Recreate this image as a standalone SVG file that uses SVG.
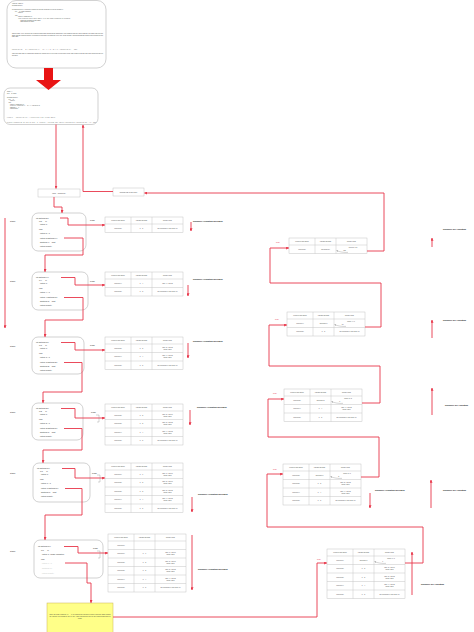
<svg xmlns="http://www.w3.org/2000/svg" width="474" height="632" viewBox="0 0 474 632">
<defs>
<style>
text{font-family:"Liberation Sans",Arial,sans-serif;fill:#444}
.code{font-size:1.4px}
.fr{font-size:2px;fill:#333}
.fd{fill:#c8c8c8}
.tt{font-size:1.55px;text-anchor:middle}
.lb{font-size:2.05px;font-weight:bold;fill:#111}
.sk{font-size:2.1px;fill:#222}
.pu{font-size:2.1px;fill:#222}
.po{font-size:2.1px;fill:#e8374a}
.bx{font-size:1.6px;text-anchor:middle}
.yt{font-size:1.4px;text-anchor:middle;fill:#333}
.box{fill:#fff;stroke:#b4b4b4;stroke-width:0.6}
.tb{fill:#fff;stroke:#c4c4c4;stroke-width:0.5}
.tl{fill:none;stroke:#c4c4c4;stroke-width:0.5}
.c{fill:none;stroke:#e8374a;stroke-width:0.9}
.g{fill:none;stroke:#888;stroke-width:0.35}
</style>
<marker id="a" viewBox="0 0 10 10" refX="9" refY="5" markerWidth="3" markerHeight="3" markerUnits="userSpaceOnUse" orient="auto"><path d="M0 0L10 5L0 10z" fill="#e8374a"/></marker>
<marker id="ga" viewBox="0 0 10 10" refX="9" refY="5" markerWidth="1.4" markerHeight="1.4" markerUnits="userSpaceOnUse" orient="auto"><path d="M0 0L10 5L0 10z" fill="#888"/></marker>
</defs>
<rect width="474" height="632" fill="#fff"/>

<g id="code-box">
<rect class="box" x="7" y="0.5" width="99" height="67.5" rx="9"/>
<text class="code" x="12" y="3.8">#include &lt;stdio.h&gt;</text>
<text class="code" x="12" y="5.5">int factorial(int n);</text>
<text class="code" x="12" y="9.8" textLength="51">int factorial(int n){ //recursive function to find the factorial of a given number n</text>
<text class="code" x="15" y="11.5">if(n == 0) //base condition</text>
<text class="code" x="18" y="13.2">return 1;</text>
<text class="code" x="15" y="15.5">else</text>
<text class="code" x="18" y="17.2">return n * factorial(n-1);</text>
<text class="code" x="18" y="18.8" textLength="52">//the function calls itself with n-1 till the base condition is reached</text>
<text class="code" x="20" y="20.5">//each call is pushed on the stack</text>
<text class="code" x="20" y="21.9">//and popped on return</text>
<text class="code" x="12" y="33.8" textLength="91">Stack Frame: every function call creates a stack frame that holds its arguments, local variables and the return address. The frame stays on the</text>
<text class="code" x="12" y="35.5" textLength="91">stack until the function returns. In recursion a new frame is pushed for every call, so the memory used grows with the depth of the recursion till the</text>
<text class="code" x="12" y="37.2">base case.</text>
<text class="code" x="12" y="49.8" textLength="65">factorial(5) = 5 * factorial(4) = 5 * 4 * 3 * 2 * 1 * factorial(0) = 120</text>
<text class="code" x="12" y="53.8" textLength="91">When the base case is reached the frames are popped one by one in the reverse order of the calls (Last In First Out) and each returns its value to</text>
<text class="code" x="12" y="55.8">the caller.</text>
</g>

<g id="main-box">
<rect class="box" x="4" y="88" width="94" height="36.5" rx="6"/>
<text class="code" x="7" y="92.2">main( ) {</text>
<text class="code" x="7" y="93.8">int n = 5, result;</text>
<text class="code" x="7" y="98.2">int factorial(int n){</text>
<text class="code" x="8.5" y="99.8">if(n == 0)</text>
<text class="code" x="10" y="101.4">return 1;</text>
<text class="code" x="8.5" y="103">else</text>
<text class="code" x="10" y="104.6">return n * factorial(n-1);</text>
<text class="code" x="10" y="106.2" textLength="30">return 5 * factorial(4) = 5 * 4 * factorial(3)</text>
<text class="code" x="10" y="107.8">factorial(4) = ?</text>
<text class="code" x="10" y="109.4">return(result);</text>
<text class="code" x="7" y="118.1" textLength="48">result = factorial(n); //function call from main</text>
<text class="code" x="7" y="122.6" textLength="89">printf("Factorial of %d is %d", n, result); //prints the value returned by factorial(5), i.e. 120</text>
</g>

<g id="call-box">
<rect class="tb" x="38" y="189" width="42" height="8"/>
<text class="bx" x="59" y="193.6">result = factorial(5);</text>
</g>
<g id="return-box">
<rect class="tb" x="113" y="188" width="31" height="8"/>
<text class="bx" x="128.5" y="192.6">Returns 120 to the caller</text>
</g>

<g id="frame-1">
<rect class="box" x="32" y="213" width="54" height="38" rx="6"/>
<text class="fr" x="36" y="218.6">int factorial(5){</text>
<text class="fr" x="39" y="221.9">if(5 == 0)</text>
<text class="fr" x="40" y="224.9">return 1;</text>
<text class="fr" x="39" y="229.6">else</text>
<text class="fr" x="40" y="233.6">return 5 * ?</text>
<text class="fr" x="40" y="238.6">return 5*factorial(4);</text>
<text class="fr" x="40" y="242.6">factorial(4) = wait</text>
<text class="fr" x="40" y="247.1">return(result);</text>
</g>
<g id="frame-2">
<rect class="box" x="32" y="272" width="56" height="38" rx="6"/>
<text class="fr" x="36" y="277.6">int factorial(4){</text>
<text class="fr" x="39" y="280.9">if(4 == 0)</text>
<text class="fr" x="40" y="283.9">return 1;</text>
<text class="fr" x="39" y="288.6">else</text>
<text class="fr" x="40" y="292.6">return 4 * ?</text>
<text class="fr" x="40" y="297.6">return 4*factorial(3);</text>
<text class="fr" x="40" y="301.6">factorial(3) = wait</text>
<text class="fr" x="40" y="306.1">return(result);</text>
</g>
<g id="frame-3">
<rect class="box" x="32" y="337" width="52" height="37" rx="6"/>
<text class="fr" x="36" y="342.6">int factorial(3){</text>
<text class="fr" x="39" y="345.9">if(3 == 0)</text>
<text class="fr" x="40" y="348.9">return 1;</text>
<text class="fr" x="39" y="353.6">else</text>
<text class="fr" x="40" y="357.6">return 3 * ?</text>
<text class="fr" x="40" y="362.6">return 3*factorial(2);</text>
<text class="fr" x="40" y="366.6">factorial(2) = wait</text>
<text class="fr" x="40" y="371.1">return(result);</text>
</g>
<g id="frame-4">
<rect class="box" x="32" y="403" width="51" height="37" rx="6"/>
<text class="fr" x="36" y="408.6">int factorial(2){</text>
<text class="fr" x="39" y="411.9">if(2 == 0)</text>
<text class="fr" x="40" y="414.9">return 1;</text>
<text class="fr" x="39" y="419.6">else</text>
<text class="fr" x="40" y="423.6">return 2 * ?</text>
<text class="fr" x="40" y="428.6">return 2*factorial(1);</text>
<text class="fr" x="40" y="432.6">factorial(1) = wait</text>
<text class="fr" x="40" y="437.1">return(result);</text>
</g>
<g id="frame-5">
<rect class="box" x="33" y="463" width="57" height="39" rx="6"/>
<text class="fr" x="37" y="468.6">int factorial(1){</text>
<text class="fr" x="40" y="471.9">if(1 == 0)</text>
<text class="fr" x="41" y="474.9">return 1;</text>
<text class="fr" x="40" y="479.6">else</text>
<text class="fr" x="41" y="483.6">return 1 * ?</text>
<text class="fr" x="41" y="488.6">return 1*factorial(0);</text>
<text class="fr" x="41" y="492.6">factorial(0) = wait</text>
<text class="fr" x="41" y="497.1">return(result);</text>
</g>
<g id="frame-6">
<rect class="box" x="34" y="540" width="69" height="38" rx="6"/>
<text class="fr" x="38" y="546.6">int factorial(0){</text>
<text class="fr" x="41" y="550.6">if(0 == 0)</text>
<text class="fr" x="42" y="554.6">return 1; //base condition</text>
<text class="fr" x="41" y="559.6">else</text>
<text class="fr fd" x="42" y="563.6">return 0 * ?</text>
<text class="fr fd" x="42" y="568.6">factorial(-1)</text>
<text class="fr fd" x="42" y="573.6">return(result);</text>
</g>

<g id="push-table-1" transform="translate(105 217)">
<rect class="tb" width="78" height="15.5"/>
<path class="tl" d="M0 7H78M26 0V15.5M47 0V15.5"/>
<text class="tt" x="13" y="4.1">Function Call Stack</text><text class="tt" x="36.5" y="4.1">Variable Storage</text><text class="tt" x="62.5" y="4.1">Return Value</text>
<text class="tt" x="13" y="11.8">factorial(5)</text><text class="tt" x="36.5" y="11.8">n = 5</text><text class="tt" x="62.5" y="11.8">Not Returned to the caller yet</text>
</g>
<g id="push-table-2" transform="translate(105 272)">
<rect class="tb" width="78" height="24"/>
<path class="tl" d="M0 7H78M0 15.5H78M26 0V24M47 0V24"/>
<text class="tt" x="13" y="4.1">Function Call Stack</text><text class="tt" x="36.5" y="4.1">Variable Storage</text><text class="tt" x="62.5" y="4.1">Return Value</text>
<text class="tt" x="13" y="11.8">factorial(4)</text><text class="tt" x="36.5" y="11.8">n = 4</text><text class="tt" x="62.5" y="11.8">Wait: 4 * fact(3)</text>
<text class="tt" x="13" y="20.3">factorial(5)</text><text class="tt" x="36.5" y="20.3">n = 5</text><text class="tt" x="62.5" y="20.3">Not Returned to the caller yet</text>
</g>
<g id="push-table-3" transform="translate(105 337)">
<rect class="tb" width="78" height="32.5"/>
<path class="tl" d="M0 7H78M0 15.5H78M0 24H78M26 0V32.5M47 0V32.5"/>
<text class="tt" x="13" y="4.1">Function Call Stack</text><text class="tt" x="36.5" y="4.1">Variable Storage</text><text class="tt" x="62.5" y="4.1">Return Value</text>
<text class="tt" x="13" y="11.8">factorial(3)</text><text class="tt" x="36.5" y="11.8">n = 3</text><text class="tt" x="62.5" y="10.8">Wait: 3 * fact(2)</text><text class="tt" x="62.5" y="12.7">return value</text>
<text class="tt" x="13" y="20.3">factorial(4)</text><text class="tt" x="36.5" y="20.3">n = 4</text><text class="tt" x="62.5" y="19.3">Wait: 4 * fact(3)</text><text class="tt" x="62.5" y="21.2">return value</text>
<text class="tt" x="13" y="28.8">factorial(5)</text><text class="tt" x="36.5" y="28.8">n = 5</text><text class="tt" x="62.5" y="28.8">Not Returned to the caller yet</text>
</g>
<g id="push-table-4" transform="translate(105 404)">
<rect class="tb" width="78" height="41"/>
<path class="tl" d="M0 7H78M0 15.5H78M0 24H78M0 32.5H78M26 0V41M47 0V41"/>
<text class="tt" x="13" y="4.1">Function Call Stack</text><text class="tt" x="36.5" y="4.1">Variable Storage</text><text class="tt" x="62.5" y="4.1">Return Value</text>
<text class="tt" x="13" y="11.8">factorial(2)</text><text class="tt" x="36.5" y="11.8">n = 2</text><text class="tt" x="62.5" y="10.8">Wait: 2 * fact(1)</text><text class="tt" x="62.5" y="12.7">return value</text>
<text class="tt" x="13" y="20.3">factorial(3)</text><text class="tt" x="36.5" y="20.3">n = 3</text><text class="tt" x="62.5" y="19.3">Wait: 3 * fact(2)</text><text class="tt" x="62.5" y="21.2">return value</text>
<text class="tt" x="13" y="28.8">factorial(4)</text><text class="tt" x="36.5" y="28.8">n = 4</text><text class="tt" x="62.5" y="27.8">Wait: 4 * fact(3)</text><text class="tt" x="62.5" y="29.7">return value</text>
<text class="tt" x="13" y="37.3">factorial(5)</text><text class="tt" x="36.5" y="37.3">n = 5</text><text class="tt" x="62.5" y="37.3">Not Returned to the caller yet</text>
</g>
<g id="push-table-5" transform="translate(105 463)">
<rect class="tb" width="78" height="49.5"/>
<path class="tl" d="M0 7H78M0 15.5H78M0 24H78M0 32.5H78M0 41H78M26 0V49.5M47 0V49.5"/>
<text class="tt" x="13" y="4.1">Function Call Stack</text><text class="tt" x="36.5" y="4.1">Variable Storage</text><text class="tt" x="62.5" y="4.1">Return Value</text>
<text class="tt" x="13" y="11.8">factorial(1)</text><text class="tt" x="36.5" y="11.8">n = 1</text><text class="tt" x="62.5" y="10.8">Wait: 1 * fact(0)</text><text class="tt" x="62.5" y="12.7">return value</text>
<text class="tt" x="13" y="20.3">factorial(2)</text><text class="tt" x="36.5" y="20.3">n = 2</text><text class="tt" x="62.5" y="19.3">Wait: 2 * fact(1)</text><text class="tt" x="62.5" y="21.2">return value</text>
<text class="tt" x="13" y="28.8">factorial(3)</text><text class="tt" x="36.5" y="28.8">n = 3</text><text class="tt" x="62.5" y="27.8">Wait: 3 * fact(2)</text><text class="tt" x="62.5" y="29.7">return value</text>
<text class="tt" x="13" y="37.3">factorial(4)</text><text class="tt" x="36.5" y="37.3">n = 4</text><text class="tt" x="62.5" y="36.3">Wait: 4 * fact(3)</text><text class="tt" x="62.5" y="38.2">return value</text>
<text class="tt" x="13" y="45.8">factorial(5)</text><text class="tt" x="36.5" y="45.8">n = 5</text><text class="tt" x="62.5" y="45.8">Not Returned to the caller yet</text>
</g>
<g id="push-table-6" transform="translate(108 534)">
<rect class="tb" width="78" height="58"/>
<path class="tl" d="M0 7H78M0 15.5H78M0 24H78M0 32.5H78M0 41H78M0 49.5H78M26 0V58M47 0V58"/>
<text class="tt" x="13" y="4.1">Function Call Stack</text><text class="tt" x="36.5" y="4.1">Variable Storage</text><text class="tt" x="62.5" y="4.1">Return Value</text>
<text class="tt" x="13" y="11.8">factorial(0)</text>
<text class="tt" x="13" y="20.3">factorial(1)</text><text class="tt" x="36.5" y="20.3">n = 1</text><text class="tt" x="62.5" y="19.3">Wait: 1 * fact(0)</text><text class="tt" x="62.5" y="21.2">return value</text>
<text class="tt" x="13" y="28.8">factorial(2)</text><text class="tt" x="36.5" y="28.8">n = 2</text><text class="tt" x="62.5" y="27.8">Wait: 2 * fact(1)</text><text class="tt" x="62.5" y="29.7">return value</text>
<text class="tt" x="13" y="37.3">factorial(3)</text><text class="tt" x="36.5" y="37.3">n = 3</text><text class="tt" x="62.5" y="36.3">Wait: 3 * fact(2)</text><text class="tt" x="62.5" y="38.2">return value</text>
<text class="tt" x="13" y="45.8">factorial(4)</text><text class="tt" x="36.5" y="45.8">n = 4</text><text class="tt" x="62.5" y="44.8">Wait: 4 * fact(3)</text><text class="tt" x="62.5" y="46.7">return value</text>
<text class="tt" x="13" y="54.3">factorial(5)</text><text class="tt" x="36.5" y="54.3">n = 5</text><text class="tt" x="62.5" y="54.3">Not Returned to the caller yet</text>
</g>

<g id="pop-table-1" transform="translate(289 238)">
<rect class="tb" width="78" height="15.5"/>
<path class="tl" d="M0 7H78M26 0V15.5M47 0V15.5"/>
<text class="tt" x="13" y="4.1">Function Call Stack</text><text class="tt" x="36.5" y="4.1">Variable Storage</text><text class="tt" x="62.5" y="4.1">Return Value</text>
<text class="tt" x="13" y="11.8">factorial(5)</text><text class="tt" x="36.5" y="11.8">Returned 24</text><text class="tt" x="64" y="10.4">return 5 * 24</text><text class="tt" x="55" y="12.9">= 120</text>
<path class="g" d="M59 14.4C55 14.7 50.5 13.9 47.6 12.6" marker-end="url(#ga)"/>
</g>
<g id="pop-table-2" transform="translate(287 312)">
<rect class="tb" width="78" height="24"/>
<path class="tl" d="M0 7H78M0 15.5H78M26 0V24M47 0V24"/>
<text class="tt" x="13" y="4.1">Function Call Stack</text><text class="tt" x="36.5" y="4.1">Variable Storage</text><text class="tt" x="62.5" y="4.1">Return Value</text>
<text class="tt" x="13" y="11.8">factorial(4)</text><text class="tt" x="36.5" y="11.8">Returned 6</text><text class="tt" x="64" y="10.4">return 4 * 6</text><text class="tt" x="55" y="12.9">= 24</text>
<path class="g" d="M59 14.4C55 14.7 50.5 13.9 47.6 12.6" marker-end="url(#ga)"/>
<text class="tt" x="13" y="20.3">factorial(5)</text><text class="tt" x="36.5" y="20.3">n = 5</text><text class="tt" x="62.5" y="20.3">Not Returned to the caller yet</text>
</g>
<g id="pop-table-3" transform="translate(284 389)">
<rect class="tb" width="78" height="32.5"/>
<path class="tl" d="M0 7H78M0 15.5H78M0 24H78M26 0V32.5M47 0V32.5"/>
<text class="tt" x="13" y="4.1">Function Call Stack</text><text class="tt" x="36.5" y="4.1">Variable Storage</text><text class="tt" x="62.5" y="4.1">Return Value</text>
<text class="tt" x="13" y="11.8">factorial(3)</text><text class="tt" x="36.5" y="11.8">Returned 2</text><text class="tt" x="64" y="10.4">return 3 * 2</text><text class="tt" x="55" y="12.9">= 6</text>
<path class="g" d="M59 14.4C55 14.7 50.5 13.9 47.6 12.6" marker-end="url(#ga)"/>
<text class="tt" x="13" y="20.3">factorial(4)</text><text class="tt" x="36.5" y="20.3">n = 4</text><text class="tt" x="62.5" y="19.3">Wait: 4 * fact(3)</text><text class="tt" x="62.5" y="21.2">return value</text>
<text class="tt" x="13" y="28.8">factorial(5)</text><text class="tt" x="36.5" y="28.8">n = 5</text><text class="tt" x="62.5" y="28.8">Not Returned to the caller yet</text>
</g>
<g id="pop-table-4" transform="translate(283 464)">
<rect class="tb" width="78" height="41"/>
<path class="tl" d="M0 7H78M0 15.5H78M0 24H78M0 32.5H78M26 0V41M47 0V41"/>
<text class="tt" x="13" y="4.1">Function Call Stack</text><text class="tt" x="36.5" y="4.1">Variable Storage</text><text class="tt" x="62.5" y="4.1">Return Value</text>
<text class="tt" x="13" y="11.8">factorial(2)</text><text class="tt" x="36.5" y="11.8">Returned 1</text><text class="tt" x="64" y="10.4">return 2 * 1</text><text class="tt" x="55" y="12.9">= 2</text>
<path class="g" d="M59 14.4C55 14.7 50.5 13.9 47.6 12.6" marker-end="url(#ga)"/>
<text class="tt" x="13" y="20.3">factorial(3)</text><text class="tt" x="36.5" y="20.3">n = 3</text><text class="tt" x="62.5" y="19.3">Wait: 3 * fact(2)</text><text class="tt" x="62.5" y="21.2">return value</text>
<text class="tt" x="13" y="28.8">factorial(4)</text><text class="tt" x="36.5" y="28.8">n = 4</text><text class="tt" x="62.5" y="27.8">Wait: 4 * fact(3)</text><text class="tt" x="62.5" y="29.7">return value</text>
<text class="tt" x="13" y="37.3">factorial(5)</text><text class="tt" x="36.5" y="37.3">n = 5</text><text class="tt" x="62.5" y="37.3">Not Returned to the caller yet</text>
</g>
<g id="pop-table-5" transform="translate(327 549)">
<rect class="tb" width="78" height="49.5"/>
<path class="tl" d="M0 7H78M0 15.5H78M0 24H78M0 32.5H78M0 41H78M26 0V49.5M47 0V49.5"/>
<text class="tt" x="13" y="4.1">Function Call Stack</text><text class="tt" x="36.5" y="4.1">Variable Storage</text><text class="tt" x="62.5" y="4.1">Return Value</text>
<text class="tt" x="13" y="11.8">factorial(1)</text><text class="tt" x="36.5" y="11.8">Returned 1</text><text class="tt" x="64" y="10.4">return 1 * 1</text><text class="tt" x="55" y="12.9">= 1</text>
<path class="g" d="M59 14.4C55 14.7 50.5 13.9 47.6 12.6" marker-end="url(#ga)"/>
<text class="tt" x="13" y="20.3">factorial(2)</text><text class="tt" x="36.5" y="20.3">n = 2</text><text class="tt" x="62.5" y="19.3">Wait: 2 * fact(1)</text><text class="tt" x="62.5" y="21.2">return value</text>
<text class="tt" x="13" y="28.8">factorial(3)</text><text class="tt" x="36.5" y="28.8">n = 3</text><text class="tt" x="62.5" y="27.8">Wait: 3 * fact(2)</text><text class="tt" x="62.5" y="29.7">return value</text>
<text class="tt" x="13" y="37.3">factorial(4)</text><text class="tt" x="36.5" y="37.3">n = 4</text><text class="tt" x="62.5" y="36.3">Wait: 4 * fact(3)</text><text class="tt" x="62.5" y="38.2">return value</text>
<text class="tt" x="13" y="45.8">factorial(5)</text><text class="tt" x="36.5" y="45.8">n = 5</text><text class="tt" x="62.5" y="45.8">Not Returned to the caller yet</text>
</g>

<g id="note">
<rect x="47" y="603" width="66" height="34" fill="#ffff88" stroke="#c9b458" stroke-width="0.5"/>
<text class="yt" x="80" y="614.6" textLength="61">Once the base condition (n == 0) is reached the function returns 1 and the stack frames</text>
<text class="yt" x="80" y="616.9" textLength="61">are popped (de-allocated) one by one, each returning its value to the function that called it</text>
<text class="yt" x="80" y="619.2">(LIFO).</text>
</g>

<g id="labels">
<text class="sk" x="10" y="221.7">Stack</text>
<text class="sk" x="10" y="281.7">Stack</text>
<text class="sk" x="10" y="346.7">Stack</text>
<text class="sk" x="10" y="412.7">Stack</text>
<text class="sk" x="10" y="473.7">Stack</text>
<text class="sk" x="10" y="551.7">Stack</text>
<text class="pu" x="90" y="221.2">Push</text>
<text class="pu" x="90" y="281.7">Push</text>
<text class="pu" x="90" y="346.2">Push</text>
<text class="pu" x="91" y="412.7">Push</text>
<text class="pu" x="92" y="473.7">Push</text>
<text class="pu" x="93" y="548.7">Push</text>
<text class="po" x="276" y="243.2">Pop</text>
<text class="po" x="275" y="320.2">Pop</text>
<text class="po" x="273" y="394.2">Pop</text>
<text class="po" x="273" y="470.2">Pop</text>
<text class="po" x="317" y="560.2">Pop</text>
<text class="lb" x="193" y="221.6">Resource Allocation Increases</text>
<text class="lb" x="193" y="279.6">Resource Allocation Increases</text>
<text class="lb" x="193" y="341.6">Resource Allocation Increases</text>
<text class="lb" x="197" y="407.6">Resource Allocation Increases</text>
<text class="lb" x="198" y="494.6">Resource Allocation Increases</text>
<text class="lb" x="198" y="569.6">Resource Allocation Increases</text>
<text class="lb" x="375" y="490.6">Resource Allocation Increases</text>
<text class="lb" x="443" y="229.6">Resource De-Allocation</text>
<text class="lb" x="443" y="320.6">Resource De-Allocation</text>
<text class="lb" x="445" y="405.6">Resource De-Allocation</text>
<text class="lb" x="443" y="490.6">Resource De-Allocation</text>
<text class="lb" x="421" y="584.6">Resource De-Allocation</text>
</g>

<g id="connectors">
<path d="M44 68H53V80H61L48.5 90L36 80H44Z" fill="#e81414"/>
<path class="c" d="M56 124.5V188.5" marker-end="url(#a)"/>
<path class="c" d="M54 197V207H62V212.8" marker-end="url(#a)"/>
<path class="c" d="M113 191.5H83V125" marker-end="url(#a)"/>
<path class="c" d="M367 251H384V193H144.5" marker-end="url(#a)"/>
<path class="c" d="M5 218V328" marker-end="url(#a)"/>
<path class="c" d="M60 218H68V225H104.8" marker-end="url(#a)"/>
<path class="c" d="M64 238H83V255H45V271.8" marker-end="url(#a)"/>
<path class="c" d="M61 277.5H75V285H104.8" marker-end="url(#a)"/>
<path class="c" d="M64 297.5H83V320H45V336.8" marker-end="url(#a)"/>
<path class="c" d="M61 342.5H75V350H104.8" marker-end="url(#a)"/>
<path class="c" d="M64 362.5H82V392H43V402.8" marker-end="url(#a)"/>
<path class="c" d="M61 408.5H75V418H104.8" marker-end="url(#a)"/>
<path class="c" d="M64 428.5H82V450H43V462.8" marker-end="url(#a)"/>
<path class="c" d="M62 468.5H75V478H104.8" marker-end="url(#a)"/>
<path class="c" d="M65 488.5H82V515H45V539.8" marker-end="url(#a)"/>
<path class="c" d="M64 546.5H78V553H107.8" marker-end="url(#a)"/>
<path class="c" d="M65 563H87V583H91V602.8" marker-end="url(#a)"/>
<path class="g" d="M96 415H99V422H97"/>
<path class="g" d="M97 475H100V482H98"/>
<path class="g" d="M97 551H100V558H98"/>
<path class="c" d="M365 327H381V283H270V248H288.8" marker-end="url(#a)"/>
<path class="c" d="M362 403H380V366H269V325H286.8" marker-end="url(#a)"/>
<path class="c" d="M361 477H379V437H268V399H283.8" marker-end="url(#a)"/>
<path class="c" d="M405 563H423V527H267V474H282.8" marker-end="url(#a)"/>
<path class="c" d="M113 617H317V563H326.8" marker-end="url(#a)"/>
<path class="c" d="M191 222V231" marker-end="url(#a)"/>
<path class="c" d="M188 285V296" marker-end="url(#a)"/>
<path class="c" d="M188 343V358" marker-end="url(#a)"/>
<path class="c" d="M190 410V425" marker-end="url(#a)"/>
<path class="c" d="M192 497V512" marker-end="url(#a)"/>
<path class="c" d="M192 535V590" marker-end="url(#a)"/>
<path class="c" d="M370 493V508" marker-end="url(#a)"/>
<path class="c" d="M432 247V238" marker-end="url(#a)"/>
<path class="c" d="M432 338V320" marker-end="url(#a)"/>
<path class="c" d="M432 415V388" marker-end="url(#a)"/>
<path class="c" d="M431 508V480" marker-end="url(#a)"/>
<path class="c" d="M412 595V552" marker-end="url(#a)"/>
</g>
</svg>
